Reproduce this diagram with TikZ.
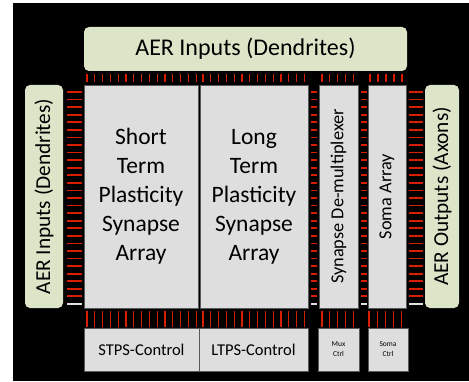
\documentclass[tikz,border=0pt]{standalone}
\usepackage{fontspec}
\setmainfont{Carlito}
\usepackage{graphicx}
\definecolor{aergreen}{RGB}{221,229,201}
\definecolor{blockgray}{RGB}{222,222,222}
\definecolor{tickred}{RGB}{215,30,0}

\begin{document}
\begin{tikzpicture}[x=1pt,y=1pt,
    aerbox/.style={fill=aergreen,rounded corners=5pt,inner sep=0,outer sep=0},
    block/.style={fill=blockgray,draw=black!65,line width=0.8pt,inner sep=0,outer sep=0},
    bus/.style={draw=tickred,line width=1.2pt},
    hbus/.style={bus,line width=1.8pt},
    idle/.style={draw=black!12,line width=1.5pt}]
  \useasboundingbox (0,0) rectangle (469,381);
  \fill[black] (13,0) rectangle (469,378);
  % AER blocks
  \node[aerbox,minimum width=323pt,minimum height=44pt,font=\fontsize{24}{28}\selectfont] (aerin) at (245.5,332) {AER Inputs (Dendrites)};
  \node[aerbox,minimum width=38pt,minimum height=223pt,font=\fontsize{21.3}{26}\selectfont] (aerleft) at (44,184.5) {\rotatebox{90}{AER Inputs (Dendrites)}};
  \node[aerbox,minimum width=34pt,minimum height=223pt,font=\fontsize{21.3}{26}\selectfont] (aerout) at (442,184.5) {\rotatebox{90}{AER Outputs (Axons)}};
  % arrays
  \node[block,minimum width=114pt,minimum height=223pt,align=center,font=\fontsize{23.5}{29}\selectfont] (stps) at (141,184.5) {Short\\Term\\Plasticity\\Synapse\\Array};
  \node[block,minimum width=108pt,minimum height=223pt,align=center,font=\fontsize{23.5}{29}\selectfont] (ltps) at (254,184.5) {Long\\Term\\Plasticity\\Synapse\\Array};
  \node[block,minimum width=39pt,minimum height=223pt,font=\fontsize{18.3}{22}\selectfont] (demux) at (338.5,184.5) {\rotatebox{90}{Synapse De-multiplexer}};
  \node[block,minimum width=38pt,minimum height=223pt,font=\fontsize{18.3}{22}\selectfont] (soma) at (387,184.5) {\rotatebox{90}{Soma Array}};
  % control blocks
  \node[block,minimum width=115pt,minimum height=43pt,font=\fontsize{16.5}{20}\selectfont] (stpsctrl) at (141.5,31.5) {STPS-Control};
  \node[block,minimum width=109pt,minimum height=43pt,font=\fontsize{16.5}{20}\selectfont] (ltpsctrl) at (253.5,31.5) {LTPS-Control};
  \node[block,minimum width=41pt,minimum height=43pt,align=center,font=\fontsize{7.5}{10}\selectfont] (muxctrl) at (338.5,31.5) {Mux\\Ctrl};
  \node[block,minimum width=40pt,minimum height=43pt,align=center,font=\fontsize{7.5}{10}\selectfont] (somactrl) at (388,31.5) {Soma\\Ctrl};
  % vertical bus lines
  \foreach \k in {0,...,14} {
    \draw[bus] ([xshift={(3+7.8*\k)*1pt},yshift=3pt]stps.north west) -- ++(0,8);
    \draw[bus] ([xshift={(3+7.8*\k)*1pt},yshift=-3pt]stps.south west) -- ++(0,-16);
  }
  \foreach \k in {0,...,13} {
    \draw[bus] ([xshift={(3+7.8*\k)*1pt},yshift=3pt]ltps.north west) -- ++(0,8);
    \draw[bus] ([xshift={(3+7.8*\k)*1pt},yshift=-3pt]ltps.south west) -- ++(0,-16);
  }
  \foreach \k in {0,...,4} {
    \draw[bus] ([xshift={(3+7.8*\k)*1pt},yshift=3pt]demux.north west) -- ++(0,8);
    \draw[bus] ([xshift={(3+7.8*\k)*1pt},yshift=-3pt]demux.south west) -- ++(0,-16);
    \draw[bus] ([xshift={(2+8*\k)*1pt},yshift=3pt]soma.north west) -- ++(0,8);
    \draw[bus] ([xshift={(1+8.2*\k)*1pt},yshift=-3pt]soma.south west) -- ++(0,-16);
  }
  % horizontal bus lines
  \foreach \k in {0,...,27} {
    \draw[hbus] ([xshift=4pt,yshift={(-7-7.57*\k)*1pt}]aerleft.north east) -- ++(15,0);
    \draw[hbus] ([xshift=3pt,yshift={(-7-7.57*\k)*1pt}]ltps.north east) -- ++(6,0);
    \draw[hbus] ([xshift=3pt,yshift={(-7-7.57*\k)*1pt}]demux.north east) -- ++(6,0);
    \draw[hbus] ([xshift=3pt,yshift={(-7-7.57*\k)*1pt}]soma.north east) -- ++(14,0);
  }
  \draw[idle] ([xshift=4pt,yshift=-219pt]aerleft.north east) -- ++(15,0);
  \draw[idle] ([xshift=3pt,yshift=-219pt]ltps.north east) -- ++(6,0);
  \draw[idle] ([xshift=3pt,yshift=-219pt]demux.north east) -- ++(6,0);
  \draw[idle] ([xshift=3pt,yshift=-219pt]soma.north east) -- ++(14,0);
\end{tikzpicture}
\end{document}
